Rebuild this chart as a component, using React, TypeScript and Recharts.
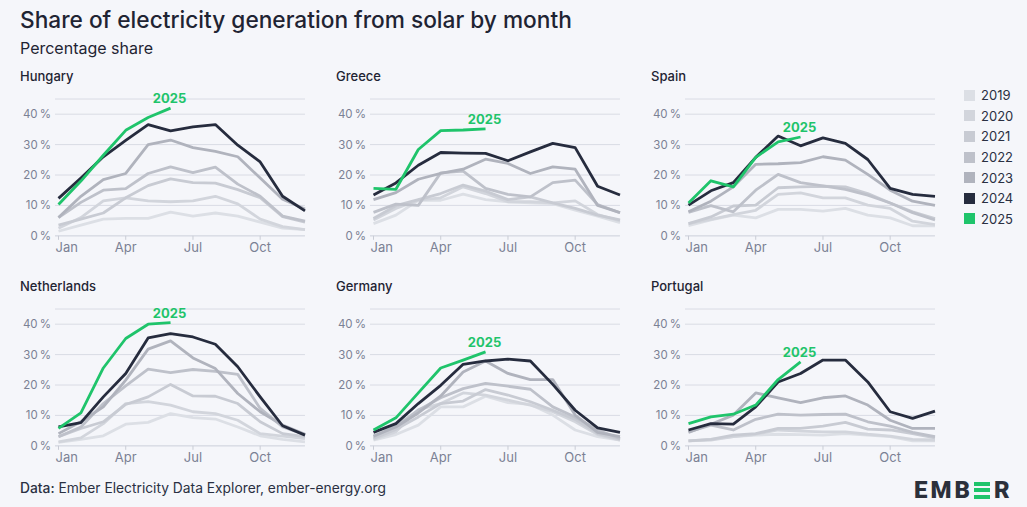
import { CartesianGrid, LabelList, Line, LineChart, XAxis, YAxis } from "recharts";

const BG = "#f5f6fa";
const INK = "#1f2433";
const AXIS_GRAY = "#7b8194";
const GRID = "#d9dce4";
const FONT = "Inter, 'Noto Sans', sans-serif";

const MONTHS = ["Jan", "Feb", "Mar", "Apr", "May", "Jun", "Jul", "Aug", "Sep", "Oct", "Nov", "Dec"];
const YEARS = ["2019", "2020", "2021", "2022", "2023", "2024", "2025"];
const YEAR_COLORS = ["#dcdfe5", "#d2d5dc", "#c8cbd3", "#bec1ca", "#b0b3bd", "#262c3e", "#1fc46b"];
const Y_TICKS = [0, 10, 20, 30, 40];
const X_TICKS = [0, 3, 6, 9];

// one row per year, 2019 first; 2025 stops at June
const hungary = [
  [1.5, 3.5, 5.5, 5.7, 5.7, 7.8, 6.5, 7.5, 6.5, 4.5, 2.5, 2.0],
  [2.5, 6.0, 11.5, 12.5, 11.5, 11.2, 11.5, 13.0, 10.5, 5.5, 3.0, 2.0],
  [3.5, 5.5, 7.5, 12.5, 16.5, 18.7, 17.5, 17.3, 15.2, 12.5, 6.3, 4.5],
  [6.0, 11.0, 15.0, 15.5, 20.5, 22.7, 20.8, 22.6, 17.0, 13.0, 6.5, 4.8],
  [6.0, 13.0, 18.5, 20.5, 30.0, 31.5, 29.0, 27.8, 26.0, 19.0, 12.0, 8.8],
  [12.3, 19.0, 26.0, 31.4, 36.6, 34.5, 35.8, 36.6, 29.8, 24.3, 13.0, 8.2],
  [10.3, 18.0, 26.5, 34.7, 38.9, 42.0],
];

const greece = [
  [4.0, 6.8, 11.7, 11.7, 13.7, 11.9, 11.2, 10.8, 10.6, 8.4, 6.5, 4.3],
  [5.2, 9.0, 11.7, 12.5, 16.1, 13.9, 11.2, 11.2, 10.8, 11.5, 7.0, 4.9],
  [5.7, 9.9, 11.9, 13.9, 16.7, 14.7, 11.9, 12.8, 10.8, 9.0, 6.8, 5.2],
  [7.7, 10.4, 10.0, 20.7, 21.3, 15.6, 13.6, 12.8, 17.5, 18.3, 10.3, 7.6],
  [11.9, 14.2, 18.6, 20.5, 21.9, 25.2, 23.8, 20.5, 22.7, 21.9, 10.0, 7.6],
  [13.4, 17.4, 23.2, 27.4, 27.2, 27.1, 24.7, 27.6, 30.4, 29.0, 16.3, 13.4],
  [15.6, 15.3, 28.4, 34.6, 34.8, 35.2],
];

const spain = [
  [3.3, 5.2, 6.8, 5.9, 8.7, 8.7, 8.1, 9.0, 6.8, 5.9, 3.3, 3.3],
  [4.0, 5.4, 7.0, 8.4, 13.6, 14.1, 12.5, 12.5, 10.1, 9.0, 4.8, 3.7],
  [4.0, 6.2, 9.8, 10.1, 15.8, 16.1, 16.3, 16.1, 13.9, 10.8, 7.9, 5.7],
  [7.7, 9.9, 7.9, 15.0, 20.2, 17.5, 16.4, 15.3, 13.4, 10.8, 7.6, 5.2],
  [7.9, 11.4, 16.1, 23.5, 23.7, 24.1, 26.0, 24.9, 20.2, 15.0, 11.4, 10.0],
  [10.1, 14.8, 17.5, 25.8, 32.8, 29.6, 32.2, 30.4, 25.1, 15.6, 13.6, 13.0],
  [10.8, 18.1, 16.1, 25.8, 30.9, 32.5],
];

const netherlands = [
  [1.1, 2.1, 3.3, 7.1, 7.7, 10.6, 9.3, 8.8, 6.2, 3.3, 2.1, 1.3],
  [1.3, 2.6, 7.3, 13.9, 14.5, 13.4, 11.2, 10.6, 8.4, 4.0, 3.2, 2.4],
  [3.0, 5.7, 7.9, 13.6, 16.1, 20.2, 16.4, 16.3, 13.9, 7.9, 4.0, 3.0],
  [3.0, 6.2, 13.9, 19.7, 25.2, 24.1, 25.1, 24.5, 23.5, 12.3, 6.2, 3.7],
  [4.0, 7.9, 12.8, 21.6, 31.8, 34.5, 28.9, 25.4, 17.2, 11.2, 6.8, 3.8],
  [6.2, 7.6, 16.1, 23.8, 35.5, 36.9, 35.8, 33.4, 26.0, 16.1, 6.6, 3.5],
  [5.7, 10.8, 25.6, 35.3, 40.0, 40.5],
];

const germany = [
  [1.9, 3.7, 6.8, 12.8, 12.8, 16.3, 14.2, 13.6, 10.1, 5.2, 3.0, 1.9],
  [2.1, 4.6, 11.9, 13.9, 17.4, 16.7, 15.0, 13.4, 11.2, 7.9, 3.7, 1.9],
  [2.4, 5.4, 9.5, 13.9, 14.7, 18.5, 16.7, 14.5, 11.7, 8.7, 4.0, 2.2],
  [3.0, 6.5, 11.7, 15.8, 18.8, 20.5, 19.6, 18.6, 12.8, 9.5, 5.2, 2.4],
  [3.2, 6.2, 10.8, 16.4, 24.3, 27.9, 23.8, 21.8, 21.8, 10.1, 4.4, 3.0],
  [4.4, 7.3, 13.9, 19.9, 26.8, 27.9, 28.5, 27.9, 20.2, 11.7, 5.9, 4.4],
  [5.2, 9.2, 17.4, 25.6, 28.2, 30.9],
];

const portugal = [
  [1.6, 2.1, 3.0, 3.5, 3.8, 3.7, 3.5, 4.0, 3.5, 3.0, 1.6, 1.6],
  [1.6, 1.9, 3.0, 3.8, 5.2, 4.8, 4.6, 4.6, 3.8, 3.2, 2.1, 1.9],
  [1.6, 2.1, 3.5, 4.0, 5.7, 5.7, 6.5, 7.7, 5.5, 5.2, 4.0, 2.6],
  [4.6, 6.8, 5.2, 8.7, 10.4, 10.1, 10.3, 10.4, 7.9, 6.5, 4.4, 3.0],
  [4.4, 7.1, 10.1, 17.4, 15.8, 14.2, 15.8, 16.4, 13.4, 8.4, 5.7, 5.7],
  [5.2, 7.3, 7.1, 12.8, 21.0, 23.8, 28.2, 28.2, 21.0, 11.2, 9.0, 11.4],
  [7.3, 9.5, 10.4, 13.4, 21.8, 27.6],
];

const PANELS = [
  { name: "Hungary", rows: hungary },
  { name: "Greece", rows: greece },
  { name: "Spain", rows: spain },
  { name: "Netherlands", rows: netherlands },
  { name: "Germany", rows: germany },
  { name: "Portugal", rows: portugal },
];

// layout
const COL_X = [55, 370, 685]; // plot left edge
const ROW_ZERO = [235.7, 445.7]; // y of the 0 % line
const PX_PER_PCT = 3.04;
const Y_MAX = 45;
const Y_AXIS_W = 40;
const PLOT_W = 250;
const M_TOP = 10;
const X_AXIS_H = 24;

const tickStyle = { fill: AXIS_GRAY, fontSize: 11.5, fontFamily: FONT };

function buildRows(rows: number[][]) {
  return MONTHS.map((_, i) => {
    const r: Record<string, number | null> = { m: i };
    YEARS.forEach((y, k) => {
      const v = rows[k][i];
      r["y" + y] = v === undefined ? null : v;
    });
    return r;
  });
}

// first label is kept inside the plot, the rest are centred on their tick
function MonthTick(props: any) {
  const { x, y, payload } = props;
  const first = payload.value === 0;
  return (
    <text
      x={first ? x - 3 : x}
      y={y}
      dy="0.71em"
      textAnchor={first ? "start" : "middle"}
      fill={AXIS_GRAY}
      fontSize={13}
      fontFamily={FONT}
    >
      {MONTHS[payload.value]}
    </text>
  );
}

function Panel({ name, rows, col, row }: { name: string; rows: number[][]; col: number; row: number }) {
  const data = buildRows(rows);
  const plotH = Y_MAX * PX_PER_PCT;
  const top = ROW_ZERO[row] - plotH - M_TOP;
  const left = COL_X[col] - Y_AXIS_W;
  const last = rows[6].length - 1;
  return (
    <>
      <div
        style={{
          position: "absolute",
          left: [20, 336, 651][col],
          top: ROW_ZERO[row] - 168,
          fontSize: 13,
          fontWeight: 500,
          color: INK,
          fontFamily: FONT,
        }}
      >
        {name}
      </div>
      <div style={{ position: "absolute", left, top }}>
        <LineChart
          width={Y_AXIS_W + PLOT_W + 10}
          height={M_TOP + plotH + X_AXIS_H}
          data={data}
          margin={{ top: M_TOP, right: 10, bottom: 0, left: 0 }}
        >
          <CartesianGrid vertical={false} stroke={GRID} strokeWidth={1} />
          <XAxis
            dataKey="m"
            type="number"
            domain={[0, 11]}
            ticks={X_TICKS}
            padding={{ left: 3.5, right: 0 }}
            height={X_AXIS_H}
            tick={<MonthTick />}
            axisLine={{ stroke: GRID }}
            tickLine={{ stroke: "#c9ccd5" }}
            tickSize={4}
            tickMargin={3}
          />
          <YAxis
            domain={[0, Y_MAX]}
            ticks={Y_TICKS}
            tickFormatter={(v) => `${v}\u2009%`}
            width={Y_AXIS_W}
            tick={tickStyle}
            axisLine={false}
            tickLine={false}
            tickSize={0}
            tickMargin={4}
          />
          {YEARS.map((y, k) => (
            <Line
              key={y}
              dataKey={"y" + y}
              stroke={YEAR_COLORS[k]}
              strokeWidth={2.8}
              dot={false}
              activeDot={false}
              isAnimationActive={false}
              strokeLinejoin="round"
            >
              {y === "2025" ? (
                <LabelList
                  dataKey={"y" + y}
                  content={(p: any) =>
                    p.index === last ? (
                      <text
                        x={p.x - 1}
                        y={p.y - 5}
                        textAnchor="middle"
                        fill={YEAR_COLORS[6]}
                        fontSize={13}
                        fontWeight={700}
                        fontFamily={FONT}
                      >
                        2025
                      </text>
                    ) : null
                  }
                />
              ) : null}
            </Line>
          ))}
        </LineChart>
      </div>
    </>
  );
}

function Legend() {
  return (
    <div style={{ position: "absolute", left: 964, top: 85, fontFamily: FONT }}>
      {YEARS.map((y, k) => (
        <div key={y} style={{ display: "flex", alignItems: "center", height: 20.6 }}>
          <div style={{ width: 11, height: 11, background: YEAR_COLORS[k], marginRight: 6 }} />
          <span style={{ fontSize: 13, color: "#2a3042" }}>{y}</span>
        </div>
      ))}
    </div>
  );
}

function Logo() {
  const bar = { width: 16, height: 4, background: "#1fc46b" };
  return (
    <div
      style={{
        position: "absolute",
        left: 914,
        top: 476,
        display: "flex",
        alignItems: "center",
        fontFamily: "Roboto, sans-serif",
        fontWeight: 900,
        fontSize: 24,
        color: "#2b303b",
        letterSpacing: 3,
      }}
    >
      <span>EMB</span>
      <div style={{ display: "flex", flexDirection: "column", gap: 2.5, margin: "0 4px 0 1px" }}>
        <div style={bar} />
        <div style={bar} />
        <div style={bar} />
      </div>
      <span>R</span>
    </div>
  );
}

export default function App() {
  return (
    <div
      style={{
        position: "absolute",
        left: 0,
        top: 0,
        width: 1027,
        height: 507,
        background: BG,
        fontFamily: FONT,
        overflow: "hidden",
      }}
    >
      <div style={{ position: "absolute", left: 20, top: 6, fontSize: 22.7, fontWeight: 500, color: INK }}>
        Share of electricity generation from solar by month
      </div>
      <div style={{ position: "absolute", left: 20, top: 38, fontSize: 16, color: INK }}>Percentage share</div>
      {PANELS.map((p, i) => (
        <Panel key={p.name} name={p.name} rows={p.rows} col={i % 3} row={Math.floor(i / 3)} />
      ))}
      <Legend />
      <div style={{ position: "absolute", left: 20, top: 480, fontSize: 13.8, color: "#2a3042" }}>
        <span style={{ fontWeight: 500 }}>Data:</span> Ember Electricity Data Explorer, ember-energy.org
      </div>
      <Logo />
    </div>
  );
}
